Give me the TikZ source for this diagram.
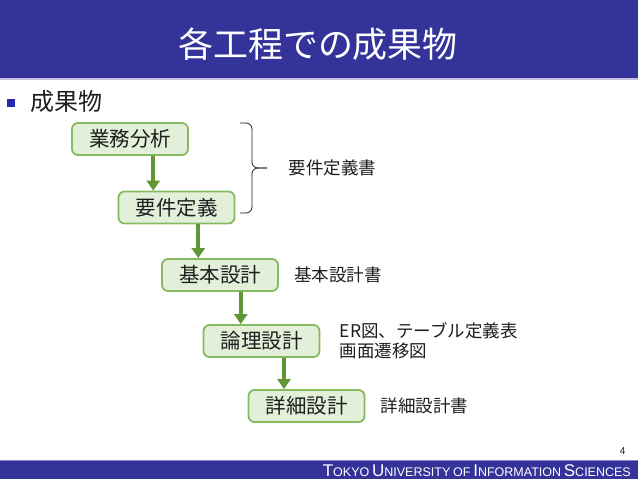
\documentclass[tikz,border=0pt]{standalone}
\usepackage{fontspec}
\usetikzlibrary{arrows.meta,positioning,calc}
\newfontfamily\jp{Noto Sans CJK JP}
\newfontfamily\arial{Liberation Sans}
\definecolor{titleblue}{RGB}{51,51,153}
\definecolor{boxfill}{RGB}{226,239,217}
\definecolor{boxline}{RGB}{134,186,96}
\definecolor{flowgreen}{RGB}{96,150,52}
\definecolor{textgray}{RGB}{30,30,30}
\newcommand{\fsc}[2]{{\fontsize{17}{17}\selectfont #1}{\fontsize{12.5}{12.5}\selectfont #2}}
\tikzset{
  stepbox/.style={draw=boxline, fill=boxfill, line width=1.8pt, rounded corners=6pt,
    minimum width=116pt, minimum height=32pt, inner sep=0pt,
    font=\jp\fontsize{20.5}{22}\selectfont, text=textgray},
  outtext/.style={font=\jp\fontsize{17.5}{20}\selectfont, text=textgray, align=left},
  flow/.style={draw=flowgreen, line width=4pt, -{Triangle[width=13pt,length=10pt]}, flowgreen},
  brace/.style={draw=textgray, line width=0.8pt, rounded corners=6pt}
}
\begin{document}
\begin{tikzpicture}[x=1pt,y=-1pt]
  \useasboundingbox (0,0) rectangle (638,479);
  % title band
  \fill[titleblue] (0,0) rectangle (638,78);
  \fill[titleblue!30] (0,78) rectangle (638,79.5);
  \node[font=\jp\fontsize{35}{35}\selectfont, text=white] (title) at (318,44) {各工程での成果物};
  % bullet
  \fill[titleblue!80!blue] (7,99) rectangle (15,107);
  \node[font=\jp\fontsize{24}{24}\selectfont, text=textgray, anchor=west] (head) at (27,101) {成果物};
  % steps
  \node[stepbox] (gyomu) at (130,139) {業務分析};
  \node[stepbox] (yoken) at (176.5,207.5) {要件定義};
  \node[stepbox] (kihon) at (220,275) {基本設計};
  \node[stepbox] (ronri) at (261.5,341) {論理設計};
  \node[stepbox] (shosai) at (306.5,406) {詳細設計};
  % arrows
  \coordinate (m1) at ($(gyomu.center)!0.5!(yoken.center)$);
  \coordinate (m2) at ($(yoken.center)!0.5!(kihon.center)$);
  \coordinate (m3) at ($(kihon.center)!0.5!(ronri.center)$);
  \coordinate (m4) at ($(ronri.center)!0.5!(shosai.center)$);
  \draw[flow] (gyomu.south -| m1) -- (yoken.north -| m1);
  \draw[flow] (yoken.south -| m2) -- (kihon.north -| m2);
  \draw[flow] (kihon.south -| m3) -- (ronri.north -| m3);
  \draw[flow] (ronri.south -| m4) -- (shosai.north -| m4);
  % brace
  \coordinate (tip) at (267,168);
  \draw[brace] (240,123) -- (252,123) -- (252,168) -- (tip);
  \draw[brace] (240,213) -- (252,213) -- (252,168) -- (tip);
  % outputs
  \node[outtext, right=18pt of tip] (yokensho) {要件定義書};
  \node[outtext, right=12pt of kihon] (kihonsho) {基本設計書};
  \node[outtext, right=16pt of ronri] (ronrisho) {ER図、テーブル定義表\\画面遷移図};
  \node[outtext, right=12pt of shosai] (shosaisho) {詳細設計書};
  % footer
  \node[font=\arial\fontsize{10}{10}\selectfont, text=textgray, anchor=base east] (page) at (629,454) {4};
  \fill[titleblue] (0,460) rectangle (638,479);
  \fill[titleblue!60] (0,460) rectangle (638,461);
  \node[font=\arial, text=white, anchor=base east, inner sep=0pt] (school) at (631,476.5)
    {\fsc{T}{OKYO} \fsc{U}{NIVERSITY} {\fontsize{12.5}{12.5}\selectfont OF} \fsc{I}{NFORMATION} \fsc{S}{CIENCES}};
\end{tikzpicture}
\end{document}
